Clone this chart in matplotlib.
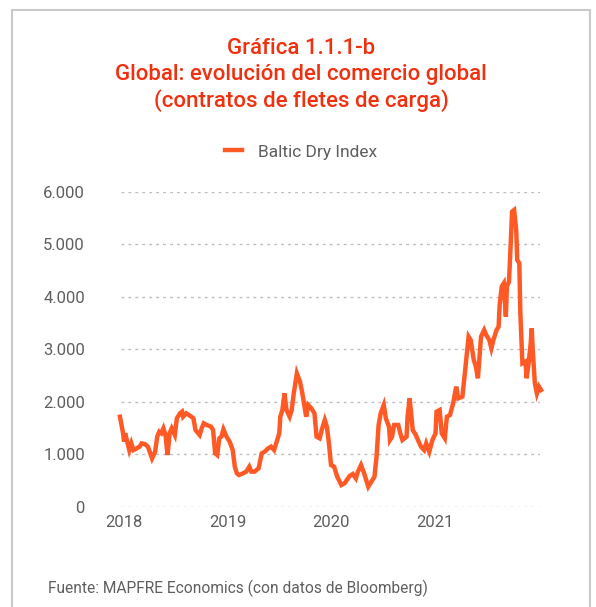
import numpy as np
import matplotlib.pyplot as plt
from matplotlib.patches import Rectangle
from matplotlib.ticker import FuncFormatter

# Baltic Dry Index, fechas en años decimales
fechas = [2017.96, 2017.99, 2018.00, 2018.01, 2018.03, 2018.05, 2018.07, 2018.09, 2018.12, 2018.15,
          2018.17, 2018.20, 2018.23, 2018.27, 2018.30, 2018.32, 2018.34, 2018.36, 2018.38, 2018.40,
          2018.42, 2018.44, 2018.46, 2018.49, 2018.51, 2018.54, 2018.56, 2018.57, 2018.60, 2018.64,
          2018.67, 2018.69, 2018.73, 2018.75, 2018.77, 2018.80, 2018.84, 2018.86, 2018.88, 2018.90,
          2018.92, 2018.94, 2018.96, 2018.99, 2019.02, 2019.05, 2019.07, 2019.09, 2019.11, 2019.15,
          2019.18, 2019.21, 2019.23, 2019.26, 2019.30, 2019.33, 2019.36, 2019.39, 2019.42, 2019.45,
          2019.47, 2019.50, 2019.51, 2019.53, 2019.55, 2019.57, 2019.60, 2019.62, 2019.64, 2019.67,
          2019.70, 2019.72, 2019.75, 2019.76, 2019.78, 2019.81, 2019.84, 2019.86, 2019.89, 2019.91,
          2019.94, 2019.96, 2019.98, 2020.00, 2020.03, 2020.06, 2020.10, 2020.13, 2020.18, 2020.21,
          2020.24, 2020.26, 2020.29, 2020.32, 2020.36, 2020.39, 2020.42, 2020.44, 2020.46, 2020.48,
          2020.51, 2020.53, 2020.56, 2020.57, 2020.59, 2020.61, 2020.65, 2020.67, 2020.69, 2020.73,
          2020.74, 2020.76, 2020.79, 2020.82, 2020.84, 2020.87, 2020.90, 2020.92, 2020.95, 2020.98,
          2021.01, 2021.02, 2021.05, 2021.07, 2021.10, 2021.12, 2021.15, 2021.18, 2021.21, 2021.23,
          2021.27, 2021.30, 2021.33, 2021.35, 2021.38, 2021.40, 2021.42, 2021.45, 2021.48, 2021.50,
          2021.53, 2021.55, 2021.57, 2021.60, 2021.62, 2021.63, 2021.65, 2021.67, 2021.69, 2021.70,
          2021.72, 2021.73, 2021.74, 2021.75, 2021.77, 2021.79, 2021.80, 2021.82, 2021.83, 2021.85,
          2021.88, 2021.89, 2021.91, 2021.93, 2021.94, 2021.95, 2021.97, 2021.99, 2022.01, 2022.03]
valores = [1716, 1400, 1240, 1400, 1240, 1080, 1208, 1080, 1110, 1145,
           1208, 1195, 1145, 920, 1050, 1335, 1430, 1400, 1494, 1367,
           985, 1400, 1494, 1367, 1685, 1780, 1812, 1716, 1780, 1730,
           1685, 1462, 1367, 1494, 1590, 1557, 1526, 1462, 1017, 985,
           1303, 1335, 1475, 1335, 1240, 1080, 763, 636, 604, 636,
           668, 763, 668, 668, 731, 1017, 1050, 1110, 1145, 1080,
           1208, 1400, 1716, 1843, 2160, 1843, 1716, 1843, 2160, 2543,
           2384, 2193, 1843, 1716, 1939, 1875, 1780, 1335, 1303, 1462,
           1653, 1526, 1208, 795, 763, 572, 413, 445, 585, 623,
           540, 668, 795, 636, 381, 477, 572, 954, 1558, 1780,
           1939, 1685, 1526, 1271, 1335, 1558, 1558, 1398, 1271, 1335,
           1716, 2066, 1462, 1367, 1271, 1144, 1080, 1208, 1049, 1271,
           1398, 1812, 1843, 1398, 1303, 1716, 1748, 1970, 2289, 2066,
           2098, 2670, 3242, 3179, 2797, 2670, 2448, 3242, 3369, 3274,
           3179, 3020, 3179, 3369, 3433, 3846, 4196, 4259, 3624, 4196,
           4291, 4704, 5181, 5626, 5658, 5276, 4704, 4641, 3687, 2734,
           2766, 2448, 2734, 3115, 3401, 2988, 2352, 2161, 2289, 2225]
anios = [2018, 2019, 2020, 2021]
yticks = [0, 1000, 2000, 3000, 4000, 5000, 6000]

naranja = '#FF5A26'
rojo = '#F0300F'
gris = '#5F5F5F'

plt.rcParams['font.family'] = ['Roboto', 'DejaVu Sans']

fig = plt.figure(figsize=(5.96, 6.07), dpi=100)
fig.patches.append(Rectangle((12/596, -0.1), 578/596, 1.1 - 10/607, transform=fig.transFigure,
                             fill=False, edgecolor='#C9C9C9', linewidth=1.5))

titulo = ['Gráfica 1.1.1-b', 'Global: evolución del comercio global', '(contratos de fletes de carga)']
for i, t in enumerate(titulo):
    fig.text(301/596, 1 - (48 + 26.5*i)/607, t, ha='center', va='center', color=rojo,
             fontsize=16, fontweight='medium')

ax = fig.add_axes([121/596, 1 - 506.7/607, 419/596, (506.7 - 192)/607])
ax.plot(fechas, valores, color=naranja, linewidth=3.2, label='Baltic Dry Index', clip_on=False,
        solid_joinstyle='miter')
ax.set_xlim(2017.97, 2022.02)
ax.set_ylim(0, 6000)
ax.set_xticks(anios)
ax.set_xticklabels([str(a) for a in anios])
ax.set_yticks(yticks)
ax.yaxis.set_major_formatter(FuncFormatter(lambda v, p: '{:,.0f}'.format(v).replace(',', '.')))
ax.grid(axis='y', color='#BDBDBD', linestyle=(0, (2, 3)), linewidth=1)
ax.set_axisbelow(True)
for s in ax.spines.values():
    s.set_visible(False)
ax.tick_params(length=0, labelsize=12, labelcolor=gris)
ax.tick_params(axis='y', pad=26)
ax.tick_params(axis='x', pad=6)

leg = fig.legend(loc='center', bbox_to_anchor=(301/596, 1 - 152/607), frameon=False, fontsize=12.5,
                 handlelength=1.0, handletextpad=0.9)
for t in leg.get_texts():
    t.set_color(gris)

fig.text(48/596, 1 - 588/607, 'Fuente: MAPFRE Economics (con datos de Bloomberg)', ha='left', va='center',
         color=gris, fontsize=11.2)

fig.savefig('out.png', dpi=100)
